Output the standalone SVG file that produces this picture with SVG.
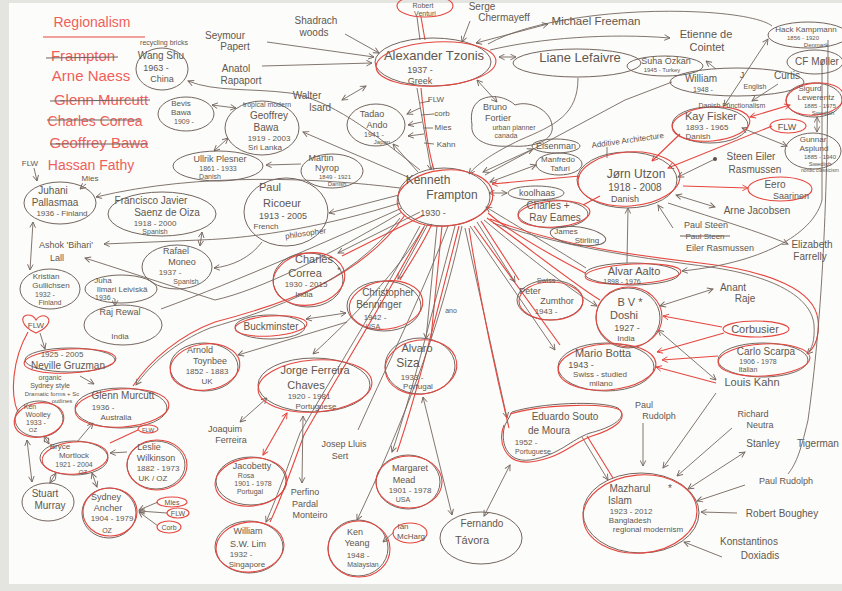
<svg xmlns="http://www.w3.org/2000/svg" width="842" height="591" viewBox="0 0 842 591">
<style>
.t{font-family:"Liberation Sans",Arial,sans-serif;fill:#62574f;text-anchor:middle}
.r{fill:#ef5f5a}
.n{fill:none;stroke:#74665f;stroke-width:1}
.nr{fill:none;stroke:#e5463f;stroke-width:1.1}
.c{fill:none;stroke:#74665f;stroke-width:0.9}
.cr{fill:none;stroke:#e5463f;stroke-width:1.1}
.k{fill:none;stroke:#6d625d;stroke-width:1.2}
</style>
<defs>
<marker id="ab" viewBox="0 0 10 10" refX="9" refY="5" markerWidth="7" markerHeight="7" markerUnits="userSpaceOnUse" orient="auto-start-reverse"><path d="M1,1 L9,5 L1,9" fill="none" stroke="#74665f" stroke-width="1.3"/></marker>
<marker id="ar" viewBox="0 0 10 10" refX="9" refY="5" markerWidth="7" markerHeight="7" markerUnits="userSpaceOnUse" orient="auto-start-reverse"><path d="M1,1 L9,5 L1,9" fill="none" stroke="#e5463f" stroke-width="1.3"/></marker>
</defs>

<!-- paper -->
<rect x="0" y="0" width="842" height="591" fill="#e4e4e1"/>
<rect x="9" y="3" width="833" height="581" fill="#fcfcfa"/>

<!-- connectors -->
<g id="connectors">
  <!-- around Tzonis -->
  <path class="c" d="M267,42 L374,57" marker-end="url(#ab)"/>
  <path class="c" d="M262,66 L372,63" marker-end="url(#ab)"/>
  <path class="c" d="M345,34 L379,53" marker-end="url(#ab)"/>
  <path class="c" d="M342,100 L366,86" marker-start="url(#ab)" marker-end="url(#ab)"/>
  <path class="cr" d="M421,17 L425,40"/>
  <path class="c" d="M417,17 L420,40"/>
  <path class="c" d="M470,21 L462,42" marker-end="url(#ab)"/>
  <path class="c" d="M548,24 L476,43" marker-start="url(#ab)" marker-end="url(#ab)"/>
  <path class="c" d="M488,44 C530,20 620,8 700,12 C740,14 765,20 772,26"/>
  <path class="c" d="M490,50 C540,38 610,33 670,38" marker-end="url(#ab)"/>
  <path class="c" d="M499,57 L516,57" marker-start="url(#ab)" marker-end="url(#ab)"/>
  <path class="c" d="M477,80 L497,102" marker-start="url(#ab)" marker-end="url(#ab)"/>
  <path class="c" d="M417,88 L431,170" marker-end="url(#ab)"/>
  <path class="cr" d="M421,88 C424,120 428,150 434,170"/>
  <path class="c" d="M420,103 L430,101 M421,115 L434,114 M423,128 L433,128 M424,143 L434,144"/>
  <path class="c" d="M420,108 L407,114" marker-end="url(#ab)"/>
  <path class="c" d="M422,122 L408,125" marker-end="url(#ab)"/>
  <path class="c" d="M424,134 L408,136" marker-end="url(#ab)"/>
  <path class="c" d="M578,78 C578,115 555,125 520,140 C495,152 478,163 469,174" marker-end="url(#ab)"/>
  <path class="c" d="M485,175 L625,100 L672,82"/>
  <path class="c" d="M483,172 L533,149" marker-start="url(#ab)" marker-end="url(#ab)"/>
  <path class="c" d="M490,182 L536,165" marker-start="url(#ab)" marker-end="url(#ab)"/>
  <path class="cr" d="M580,176 L492,184" marker-end="url(#ar)"/>
  <path class="c" d="M489,193 L507,193" marker-start="url(#ab)" marker-end="url(#ab)"/>
  <path class="cr" d="M583,205 L600,196"/>
  <path class="c" d="M586,268 C550,245 510,222 486,207" marker-end="url(#ab)"/>
  <path class="cr" d="M585,273 C545,252 510,232 488,213"/>
  <path class="cr" d="M490,219 C560,246 640,256 700,263 C770,271 815,290 818,320 C820,335 815,347 809,352"/>
  <path class="c" d="M493,223 C570,249 650,259 710,267 C780,277 812,300 814,325 C815,340 812,349 807,354" marker-end="url(#ab)"/>
  <!-- Frampton, upper left -->
  <path class="c" d="M418,172 L393,144" marker-end="url(#ab)"/>
  <path class="c" d="M410,178 L303,132" marker-end="url(#ab)"/>
  <path class="c" d="M420,170 C370,130 330,100 290,93 C250,88 215,92 188,81" marker-end="url(#ab)"/>
  <path class="c" d="M301,164 L266,165" marker-end="url(#ab)"/>
  <path class="c" d="M212,105 L236,108" marker-start="url(#ab)" marker-end="url(#ab)"/>
  <path class="c" d="M214,151 L228,138" marker-start="url(#ab)" marker-end="url(#ab)"/>
  <path class="c" d="M400,188 C320,178 200,172 96,197" marker-end="url(#ab)"/>
  <path class="c" d="M399,195 L329,213" marker-end="url(#ab)"/>
  <path class="c" d="M262,242 C250,258 232,266 214,268" marker-end="url(#ab)"/>
  <path class="c" d="M400,203 C330,225 260,238 200,240 L104,244" marker-end="url(#ab)"/>
  <path class="c" d="M202,232 L200,246" marker-start="url(#ab)" marker-end="url(#ab)"/>
  <path class="c" d="M402,208 C330,240 240,280 161,309"/>
  <path class="c" d="M402,212 C330,255 260,290 215,300 L85,258" marker-end="url(#ab)"/>
  <path class="c" d="M115,299 L115,306" marker-end="url(#ab)"/>
  <path class="c" d="M33,222 L30,270" marker-start="url(#ab)" marker-end="url(#ab)"/>
  <path class="c" d="M34,168 L37,181" marker-end="url(#ab)"/>
  <path class="c" d="M86,184 L80,189" marker-end="url(#ab)"/>
  <!-- Frampton, downward spokes -->
  <path class="c" d="M420,212 L338,253" marker-end="url(#ab)"/>
  <path class="cr" d="M424,215 L342,256"/>
  <path class="c" d="M428,224 L398,279" marker-end="url(#ab)"/>
  <path class="cr" d="M432,224 C420,250 405,270 400,280"/>
  <path class="c" d="M306,319 L346,313" marker-start="url(#ab)" marker-end="url(#ab)"/>
  <path class="c" d="M347,322 L238,355" marker-end="url(#ab)"/>
  <path class="c" d="M425,225 C400,270 350,320 313,354" marker-end="url(#ab)"/>
  <path class="cr" d="M405,215 C360,280 280,305 215,322 C180,335 150,360 133,386"/>
  <path class="c" d="M400,218 C350,285 270,310 210,328 C175,342 150,365 136,385" marker-end="url(#ab)"/>
  <path class="c" d="M437,226 L426,339" marker-end="url(#ab)"/>
  <path class="cr" d="M442,226 L431,338"/>
  <path class="c" d="M448,226 C420,300 380,380 358,430"/>
  <path class="c" d="M455,226 C430,320 410,400 392,452" marker-end="url(#ab)"/>
  <path class="cr" d="M459,226 C435,320 415,400 397,452"/>
  <path class="c" d="M462,226 C440,330 400,430 357,520" marker-end="url(#ab)"/>
  <path class="c" d="M420,226 C380,300 330,380 300,433 C290,460 278,495 266,522" marker-end="url(#ab)"/>
  <path class="cr" d="M424,227 C384,302 334,382 304,435 C294,462 282,497 270,522"/>
  <path class="c" d="M465,228 L507,418" marker-end="url(#ab)"/>
  <path class="cr" d="M469,228 C480,300 495,370 509,428"/>
  <path class="c" d="M582,437 L608,480" marker-end="url(#ab)"/>
  <path class="cr" d="M587,436 L613,478"/>
  <path class="c" d="M470,226 L555,350" marker-end="url(#ab)"/>
  <path class="cr" d="M474,226 L560,345"/>
  <path class="c" d="M477,222 L515,282" marker-end="url(#ab)"/>
  <path class="cr" d="M481,221 L519,280"/>
  <path class="c" d="M484,220 C520,250 570,290 597,306" marker-end="url(#ab)"/>
  <path class="cr" d="M487,218 C525,245 575,285 600,300"/>
  <path class="c" d="M423,397 L452,515" marker-start="url(#ab)" marker-end="url(#ab)"/>
  <path class="c" d="M510,465 L484,516" marker-start="url(#ab)" marker-end="url(#ab)"/>
  <path class="c" d="M267,398 L240,422" marker-start="url(#ab)" marker-end="url(#ab)"/>
  <path class="cr" d="M287,413 L263,455" marker-start="url(#ar)" marker-end="url(#ar)"/>
  <path class="c" d="M303,416 L302,483" marker-start="url(#ab)" marker-end="url(#ab)"/>
  <path class="c" d="M394,532 L383,542" marker-end="url(#ab)"/>
  <!-- Utzon and the Nordic group -->
  <path class="cr" d="M680,134 L652,161" marker-end="url(#ar)"/>
  <path class="cr" d="M772,126 L668,168" marker-end="url(#ar)"/>
  <path class="cr" d="M750,117 L790,105" marker-start="url(#ar)" marker-end="url(#ar)"/>
  <path class="c" d="M742,128 L787,146" marker-start="url(#ab)" marker-end="url(#ab)"/>
  <path class="c" d="M817,117 L817,132" marker-start="url(#ab)" marker-end="url(#ab)"/>
  <path class="c" d="M768,39 L724,106" marker-start="url(#ab)" marker-end="url(#ab)"/>
  <path class="c" d="M778,84 L752,101" marker-end="url(#ab)"/>
  <path class="c" d="M716,69 L706,61" marker-end="url(#ab)"/>
  <path class="c" d="M715,159 L678,177" marker-end="url(#ab)"/>
  <circle cx="715" cy="159" r="2" fill="#5b504b"/>
  <path class="cr" d="M683,186 L748,188" marker-end="url(#ar)"/>
  <path class="c" d="M676,195 L715,207" marker-start="url(#ab)" marker-end="url(#ab)"/>
  <path class="c" d="M673,228 L658,205" marker-end="url(#ab)"/>
  <path class="c" d="M668,203 C720,220 760,232 788,244" marker-end="url(#ab)"/>
  <path class="c" d="M822,60 L822,200 C815,230 770,262 682,271" marker-end="url(#ab)"/>
  <path class="c" d="M828,40 C828,200 822,320 808,420 C800,455 795,465 788,474"/>
  <path class="c" d="M627,263 L628,208" marker-end="url(#ab)"/>
  <!-- Doshi, Botta, Scarpa -->
  <path class="c" d="M713,289 L660,306" marker-start="url(#ab)" marker-end="url(#ab)"/>
  <path class="cr" d="M722,327 L663,316" marker-end="url(#ar)"/>
  <path class="cr" d="M724,333 L657,352" marker-end="url(#ar)"/>
  <path class="cr" d="M718,356 L662,360" marker-end="url(#ar)"/>
  <path class="cr" d="M716,383 L656,367" marker-end="url(#ar)"/>
  <path class="c" d="M716,380 L658,330" marker-start="url(#ab)" marker-end="url(#ab)"/>
  <!-- into Mazharul Islam -->
  <path class="c" d="M643,423 L643,466" marker-end="url(#ab)"/>
  <path class="c" d="M716,393 L663,468" marker-end="url(#ab)"/>
  <path class="c" d="M732,428 L677,476" marker-end="url(#ab)"/>
  <path class="c" d="M745,452 L688,489" marker-start="url(#ab)" marker-end="url(#ab)"/>
  <path class="c" d="M745,485 L697,501" marker-end="url(#ab)"/>
  <path class="c" d="M737,513 L701,512" marker-end="url(#ab)"/>
  <path class="c" d="M722,557 L684,542" marker-end="url(#ab)"/>
  <!-- Australian group -->
  <path class="c" d="M40,333 L45,349" marker-end="url(#ab)"/>
  <path class="c" d="M80,376 L94,384" marker-end="url(#ab)"/>
  <path class="c" d="M77,442 L93,423" marker-end="url(#ab)"/>
  <path class="cr" d="M138,430 L110,443"/>
  <path class="c" d="M127,452 L110,453" marker-end="url(#ab)"/>
  <path class="c" d="M44,436 L49,444" marker-start="url(#ab)" marker-end="url(#ab)"/>
  <path class="c" d="M27,440 L32,482" marker-start="url(#ab)" marker-end="url(#ab)"/>
  <path class="c" d="M56,473 L50,483" marker-start="url(#ab)" marker-end="url(#ab)"/>
  <path class="c" d="M92,473 L97,487" marker-start="url(#ab)" marker-end="url(#ab)"/>
  <path class="c" d="M158,502 L139,510" marker-end="url(#ab)"/>
  <path class="c" d="M167,513 L139,511" marker-end="url(#ab)"/>
  <path class="c" d="M158,526 L139,512" marker-end="url(#ab)"/>
  <path class="cr" d="M28,332 C12,360 10,395 18,412"/>
</g>

<!-- list -->
<g id="legend">
  <text class="t r" x="92" y="27" font-size="14">Regionalism</text>
  <path class="cr" d="M43,37 L145,37"/>
  <text class="t r" x="83" y="61" font-size="15">Frampton</text>
  <path class="k" d="M46,58 L118,57"/>
  <text class="t r" x="91" y="81" font-size="15">Arne Naess</text>
  <text class="t r" x="101" y="105" font-size="15">Glenn Murcutt</text>
  <path class="k" d="M50,101 L150,100"/>
  <text class="t r" x="95" y="126" font-size="14">Charles Correa</text>
  <path class="k" d="M47,120 L140,120"/>
  <text class="t r" x="99" y="148" font-size="15">Geoffrey Bawa</text>
  <path class="k" d="M50,144 L148,144"/>
  <text class="t r" x="91" y="170" font-size="14">Hassan Fathy</text>
</g>

<g id="wang-shu"><ellipse class="n" cx="162" cy="69" rx="26" ry="21"/>
  <text class="t" x="164" y="45" font-size="7">recycling bricks</text>
  <text class="t" x="161" y="59" font-size="10">Wang Shu</text>
  <text class="t" x="156" y="71" font-size="9">1963 -</text>
  <text class="t" x="162" y="82" font-size="9">China</text></g>
<g id="bevis-bawa"><ellipse class="n" cx="186" cy="114" rx="28" ry="17"/>
  <text class="t" x="181" y="106" font-size="8">Bevis</text>
  <text class="t" x="181" y="115" font-size="8">Bawa</text>
  <text class="t" x="184" y="124" font-size="7">1909 -</text></g>
<g id="geoffrey-bawa"><ellipse class="n" cx="262" cy="128" rx="37" ry="27"/>
  <text class="t" x="267" y="107" font-size="7">tropical modern</text>
  <text class="t" x="269" y="119" font-size="10">Geoffrey</text>
  <text class="t" x="266" y="131" font-size="10">Bawa</text>
  <text class="t" x="269" y="141" font-size="8">1919 - 2003</text>
  <text class="t" x="265" y="150" font-size="8">Sri Lanka</text></g>
<g id="ullrik-plesner"><ellipse class="n" cx="218" cy="166" rx="45" ry="15"/>
  <text class="t" x="220" y="162" font-size="9">Ullrik Plesner</text>
  <text class="t" x="218" y="171" font-size="7">1861 - 1933</text>
  <text class="t" x="210" y="179" font-size="7">Danish</text></g>
<g id="martin-nyrop"><ellipse class="n" cx="332" cy="171" rx="31" ry="17"/>
  <text class="t" x="321" y="161" font-size="9">Martin</text>
  <text class="t" x="327" y="171" font-size="9">Nyrop</text>
  <text class="t" x="335" y="179" font-size="6">1849 - 1921</text>
  <text class="t" x="337" y="186" font-size="6">Danish</text></g>
<g id="seymour-papert">
  <text class="t" x="225" y="39" font-size="10">Seymour</text>
  <text class="t" x="235" y="50" font-size="10">Papert</text></g>
<g id="anatol-rapaport">
  <text class="t" x="236" y="72" font-size="10">Anatol</text>
  <text class="t" x="241" y="84" font-size="10">Rapaport</text></g>
<g id="shadrach-woods">
  <text class="t" x="316" y="24" font-size="10">Shadrach</text>
  <text class="t" x="314" y="36" font-size="10">woods</text></g>
<g id="alexander-tzonis"><ellipse class="n" cx="433" cy="62" rx="58" ry="24"/>
  <ellipse class="nr" cx="436" cy="64" rx="60" ry="22" transform="rotate(-3 436 64)"/>
  <text class="t" x="434" y="60" font-size="13">Alexander Tzonis</text>
  <text class="t" x="420" y="73" font-size="9">1937 -</text>
  <text class="t" x="420" y="84" font-size="9">Greek</text></g>
<g id="robert-venturi"><ellipse class="nr" cx="425" cy="6" rx="28" ry="11"/>
  <text class="t" x="423" y="8" font-size="7">Robert</text>
  <text class="t" x="425" y="16" font-size="7">Venturi</text></g>
<g id="serge-chermayeff">
  <text class="t" x="482" y="10" font-size="10">Serge</text>
  <text class="t" x="504" y="21" font-size="10">Chermayeff</text></g>
<g id="michael-freeman"><text class="t" x="596" y="25" font-size="11.5">Michael Freeman</text></g>
<g id="etienne-de-cointet">
  <text class="t" x="706" y="38" font-size="11">Etienne de</text>
  <text class="t" x="707" y="51" font-size="11">Cointet</text></g>
<g id="liane-lefaivre"><ellipse class="n" cx="577" cy="63" rx="64" ry="14"/>
  <text class="t" x="580" y="62" font-size="13">Liane Lefaivre</text></g>
<g id="walter-isard">
  <text class="t" x="307" y="99" font-size="10">Walter</text>
  <text class="t" x="320" y="111" font-size="10">Isard</text></g>
<g id="tadao-ando"><ellipse class="n" cx="376" cy="125" rx="29" ry="21"/>
  <text class="t" x="372" y="117" font-size="9">Tadao</text>
  <text class="t" x="377" y="128" font-size="9">Ando</text>
  <text class="t" x="374" y="137" font-size="7">1941 -</text>
  <text class="t" x="382" y="144" font-size="6">Japan</text></g>
<g id="influences">
  <text class="t" x="436" y="102" font-size="8">FLW</text>
  <text class="t" x="442" y="116" font-size="8">corb</text>
  <text class="t" x="443" y="130" font-size="8">Mies</text>
  <text class="t" x="446" y="147" font-size="8">Kahn</text></g>
<g id="bruno-fortier"><path class="n" d="M480,100 C495,92 510,100 515,105 C530,100 550,110 552,125 C555,140 535,148 510,146 C485,148 470,138 472,125 C470,112 473,105 480,100 Z"/>
  <text class="t" x="495" y="110" font-size="9">Bruno</text>
  <text class="t" x="498" y="121" font-size="9">Fortier</text>
  <text class="t" x="514" y="130" font-size="7">urban planner</text>
  <text class="t" x="506" y="138" font-size="7">canada</text></g>
<g id="suha-ozkan"><ellipse class="n" cx="665" cy="66" rx="38" ry="10"/>
  <text class="t" x="666" y="64" font-size="9">Suha Özkan</text>
  <text class="t" x="662" y="72" font-size="6">1945 - Turkey</text></g>
<g id="william-curtis"><ellipse class="n" cx="737" cy="82" rx="67" ry="14"/>
  <text class="t" x="701" y="82" font-size="10">William</text>
  <text class="t" x="742" y="78" font-size="9">J</text>
  <text class="t" x="787" y="79" font-size="10">Curtis</text>
  <text class="t" x="703" y="92" font-size="7">1948 -</text>
  <text class="t" x="755" y="89" font-size="7">English</text></g>
<g id="hack-kampmann"><ellipse class="n" cx="808" cy="35" rx="40" ry="13"/>
  <text class="t" x="806" y="32" font-size="8">Hack Kampmann</text>
  <text class="t" x="803" y="40" font-size="6">1856 - 1920</text>
  <text class="t" x="816" y="47" font-size="6">Denmark</text></g>
<g id="cf-moller"><ellipse class="n" cx="815" cy="62" rx="28" ry="12"/>
  <text class="t" x="817" y="65" font-size="10">CF Møller</text></g>
<g id="sigurd-lewerentz"><ellipse class="n" cx="814" cy="100" rx="28" ry="17"/>
  <ellipse class="nr" cx="815" cy="99" rx="29" ry="16" transform="rotate(-6 815 99)"/>
  <text class="t" x="810" y="91" font-size="8">Sigurd</text>
  <text class="t" x="816" y="100" font-size="8">Lewerentz</text>
  <text class="t" x="820" y="108" font-size="6">1885 - 1975</text>
  <text class="t" x="823" y="115" font-size="6">Swedish</text></g>
<g id="kay-fisker"><ellipse class="n" cx="710" cy="125" rx="38" ry="18"/>
  <ellipse class="nr" cx="711" cy="124" rx="39" ry="17" transform="rotate(-5 711 124)"/>
  <text class="t" x="732" y="108" font-size="7">Danish Functionalism</text>
  <text class="t" x="711" y="120" font-size="11">Kay Fisker</text>
  <text class="t" x="707" y="130" font-size="8">1893 - 1965</text>
  <text class="t" x="698" y="139" font-size="8">Danish</text></g>
<g id="flw-nordic"><ellipse class="nr" cx="788" cy="126" rx="18" ry="7"/>
  <text class="t" x="787" y="130" font-size="9">FLW</text></g>
<g id="gunnar-asplund"><ellipse class="n" cx="813" cy="151" rx="28" ry="18"/>
  <text class="t" x="813" y="142" font-size="8">Gunnar</text>
  <text class="t" x="814" y="151" font-size="8">Asplund</text>
  <text class="t" x="820" y="159" font-size="6">1885 - 1940</text>
  <text class="t" x="820" y="166" font-size="6">Swedish</text>
  <text class="t" x="820" y="172" font-size="5">nordic classicism</text></g>
<g id="jorn-utzon"><ellipse class="n" cx="627" cy="180" rx="50" ry="28"/>
  <ellipse class="nr" cx="629" cy="179" rx="51" ry="27" transform="rotate(-4 629 179)"/>
  <text class="t" x="628" y="143" font-size="8" transform="rotate(-8 628 143)">Additive Architecture</text>
  <path class="c" d="M607,147 L607,158"/>
  <text class="t" x="636" y="178" font-size="12">Jørn Utzon</text>
  <text class="t" x="635" y="191" font-size="10">1918 - 2008</text>
  <text class="t" x="625" y="202" font-size="9">Danish</text></g>
<g id="steen-eiler-rasmussen">
  <text class="t" x="751" y="160" font-size="10">Steen Eiler</text>
  <text class="t" x="755" y="173" font-size="10">Rasmussen</text></g>
<g id="eero-saarinen"><ellipse class="nr" cx="780" cy="189" rx="32" ry="12"/>
  <text class="t" x="775" y="188" font-size="10">Eero</text>
  <text class="t" x="791" y="199" font-size="9">Saarinen</text></g>
<g id="arne-jacobsen"><text class="t" x="757" y="214" font-size="10">Arne Jacobsen</text></g>
<g id="paul-steen">
  <text class="t" x="706" y="228" font-size="9">Paul Steen</text>
  <text class="t" x="705" y="239" font-size="8">Paul Steen</text>
  <path class="k" d="M680,236 L730,236"/>
  <text class="t" x="720" y="251" font-size="9">Eiler Rasmussen</text></g>
<g id="elizabeth-farrelly">
  <text class="t" x="812" y="248" font-size="10">Elizabeth</text>
  <text class="t" x="810" y="260" font-size="10">Farrelly</text></g>
<g id="eisenman"><ellipse class="n" cx="556" cy="146" rx="24" ry="7"/>
  <text class="t" x="556" y="149" font-size="9">Eisenman</text></g>
<g id="manfredo-tafuri"><ellipse class="n" cx="559" cy="164" rx="23" ry="11"/>
  <text class="t" x="558" y="162" font-size="8">Manfredo</text>
  <text class="t" x="560" y="171" font-size="8">Tafuri</text></g>
<g id="kenneth-frampton"><ellipse class="n" cx="444" cy="197" rx="46" ry="29"/>
  <ellipse class="nr" cx="445" cy="198" rx="48" ry="28" transform="rotate(-5 445 198)"/>
  <text class="t" x="428" y="184" font-size="12">Kenneth</text>
  <text class="t" x="452" y="199" font-size="12">Frampton</text>
  <text class="t" x="433" y="216" font-size="9">1930 -</text></g>
<g id="koolhaas"><ellipse class="n" cx="536" cy="193" rx="28" ry="7"/>
  <text class="t" x="537" y="196" font-size="9">koolhaas</text></g>
<g id="charles-ray-eames"><ellipse class="n" cx="553" cy="214" rx="35" ry="14"/>
  <ellipse class="nr" cx="554" cy="214" rx="36" ry="13" transform="rotate(-4 554 214)"/>
  <text class="t" x="548" y="209" font-size="10">Charles +</text>
  <text class="t" x="555" y="221" font-size="10">Ray Eames</text></g>
<g id="james-stirling"><ellipse class="n" cx="578" cy="236" rx="28" ry="9" transform="rotate(8 578 236)"/>
  <text class="t" x="566" y="234" font-size="8">James</text>
  <text class="t" x="587" y="243" font-size="8">Stirling</text></g>
<g id="juhani-pallasmaa"><ellipse class="n" cx="60" cy="203" rx="36" ry="21"/>
  <text class="t" x="30" y="166" font-size="8">FLW</text>
  <text class="t" x="90" y="181" font-size="8">Mies</text>
  <text class="t" x="53" y="194" font-size="10">Juhani</text>
  <text class="t" x="55" y="206" font-size="10">Pallasmaa</text>
  <text class="t" x="62" y="216" font-size="8">1936 - Finland</text></g>
<g id="francisco-javier-saenz-de-oiza"><ellipse class="n" cx="162" cy="214" rx="54" ry="22"/>
  <text class="t" x="151" y="204" font-size="10">Francisco Javier</text>
  <text class="t" x="167" y="216" font-size="10">Saenz de Oiza</text>
  <text class="t" x="155" y="226" font-size="8">1918 - 2000</text>
  <text class="t" x="155" y="234" font-size="7">Spanish</text></g>
<g id="paul-ricoeur"><ellipse class="n" cx="286" cy="212" rx="42" ry="34"/>
  <text class="t" x="270" y="191" font-size="11">Paul</text>
  <text class="t" x="282" y="207" font-size="11">Ricoeur</text>
  <text class="t" x="283" y="219" font-size="9">1913 - 2005</text>
  <text class="t" x="266" y="229" font-size="8">French</text>
  <text class="t" x="306" y="236" font-size="8" transform="rotate(-8 306 236)">philosopher</text></g>
<g id="ashok-lall">
  <text class="t" x="66" y="248" font-size="9">Ashok 'Bihari'</text>
  <text class="t" x="57" y="261" font-size="9">Lall</text></g>
<g id="rafael-moneo"><ellipse class="n" cx="177" cy="267" rx="35" ry="22"/>
  <text class="t" x="176" y="254" font-size="9">Rafael</text>
  <text class="t" x="182" y="265" font-size="9">Moneo</text>
  <text class="t" x="170" y="275" font-size="8">1937 -</text>
  <text class="t" x="186" y="284" font-size="7">Spanish</text></g>
<g id="kristian-gullichsen"><ellipse class="n" cx="50" cy="289" rx="30" ry="20"/>
  <text class="t" x="46" y="279" font-size="8">Kristian</text>
  <text class="t" x="51" y="288" font-size="8">Gullichsen</text>
  <text class="t" x="45" y="297" font-size="7">1932 -</text>
  <text class="t" x="50" y="305" font-size="7">Finland</text></g>
<g id="juha-leiviska"><ellipse class="n" cx="121" cy="289" rx="36" ry="14"/>
  <text class="t" x="103" y="283" font-size="8">Juha</text>
  <text class="t" x="122" y="292" font-size="8">Ilmari Leiviskä</text>
  <text class="t" x="105" y="300" font-size="7">1936 -</text></g>
<g id="raj-rewal"><ellipse class="n" cx="123" cy="325" rx="39" ry="20"/>
  <text class="t" x="120" y="315" font-size="9">Raj Rewal</text>
  <text class="t" x="120" y="339" font-size="8">India</text></g>
<g id="charles-correa"><ellipse class="n" cx="308" cy="280" rx="35" ry="27"/>
  <ellipse class="nr" cx="309" cy="279" rx="36" ry="26" transform="rotate(-10 309 279)"/>
  <text class="t" x="314" y="263" font-size="11">Charles</text>
  <text class="t" x="305" y="277" font-size="11">Correa</text>
  <text class="t" x="306" y="287" font-size="8">1930 - 2015</text>
  <text class="t" x="304" y="297" font-size="8">India</text>
  <text class="t" x="339" y="273" font-size="9">*</text></g>
<g id="christopher-benninger"><ellipse class="n" cx="384" cy="306" rx="37" ry="25"/>
  <ellipse class="nr" cx="386" cy="305" rx="37" ry="24" transform="rotate(-8 386 305)"/>
  <text class="t" x="388" y="296" font-size="10">Christopher</text>
  <text class="t" x="379" y="308" font-size="10">Benninger</text>
  <text class="t" x="375" y="320" font-size="8">1942 -</text>
  <text class="t" x="373" y="329" font-size="7">USA</text></g>
<g id="buckminster"><ellipse class="n" cx="270" cy="327" rx="35" ry="12"/>
  <ellipse class="nr" cx="271" cy="326" rx="36" ry="10" transform="rotate(-4 271 326)"/>
  <text class="t" x="271" y="330" font-size="10">Buckminster</text></g>
<g id="peter-zumthor"><ellipse class="n" cx="550" cy="300" rx="33" ry="20"/>
  <ellipse class="nr" cx="551" cy="301" rx="32" ry="19"/>
  <text class="t" x="546" y="283" font-size="7">Swiss</text>
  <text class="t" x="530" y="294" font-size="9">Peter</text>
  <text class="t" x="557" y="304" font-size="9">Zumthor</text>
  <text class="t" x="546" y="314" font-size="8">1943 -</text></g>
<g id="note-ano"><text class="t" x="451" y="313" font-size="7">ano</text></g>
<g id="alvar-aalto"><ellipse class="n" cx="632" cy="274" rx="47" ry="11"/>
  <ellipse class="nr" cx="633" cy="274" rx="48" ry="10" transform="rotate(-3 633 274)"/>
  <text class="t" x="634" y="275" font-size="11">Alvar Aalto</text>
  <text class="t" x="622" y="284" font-size="7">1898 - 1976</text></g>
<g id="bv-doshi"><ellipse class="n" cx="628" cy="318" rx="32" ry="30"/>
  <ellipse class="nr" cx="629" cy="317" rx="33" ry="30"/>
  <text class="t" x="630" y="306" font-size="11">B V *</text>
  <text class="t" x="624" y="319" font-size="11">Doshi</text>
  <text class="t" x="627" y="331" font-size="9">1927 -</text>
  <text class="t" x="626" y="341" font-size="8">India</text></g>
<g id="anant-raje">
  <text class="t" x="733" y="291" font-size="10">Anant</text>
  <text class="t" x="745" y="302" font-size="10">Raje</text></g>
<g id="corbusier"><ellipse class="nr" cx="756" cy="329" rx="33" ry="8"/>
  <text class="t" x="755" y="333" font-size="11">Corbusier</text></g>
<g id="carlo-scarpa"><ellipse class="n" cx="763" cy="360" rx="45" ry="17"/>
  <ellipse class="nr" cx="764" cy="360" rx="46" ry="16" transform="rotate(-3 764 360)"/>
  <text class="t" x="766" y="355" font-size="10">Carlo Scarpa</text>
  <text class="t" x="758" y="364" font-size="7">1906 - 1978</text>
  <text class="t" x="748" y="372" font-size="7">Italian</text></g>
<g id="louis-kahn"><text class="t" x="752" y="386" font-size="11">Louis Kahn</text></g>
<g id="mario-botta"><ellipse class="n" cx="606" cy="367" rx="48" ry="24"/>
  <ellipse class="nr" cx="607" cy="367" rx="49" ry="23" transform="rotate(-4 607 367)"/>
  <text class="t" x="603" y="357" font-size="11">Mario Botta</text>
  <text class="t" x="581" y="368" font-size="9">1943 -</text>
  <text class="t" x="600" y="377" font-size="8">Swiss - studied</text>
  <text class="t" x="601" y="386" font-size="8">milano</text></g>
<g id="alvaro-siza"><ellipse class="n" cx="420" cy="366" rx="35" ry="28"/>
  <ellipse class="nr" cx="421" cy="367" rx="36" ry="27" transform="rotate(-8 421 367)"/>
  <text class="t" x="417" y="352" font-size="11">Alvaro</text>
  <text class="t" x="408" y="367" font-size="12">Siza</text>
  <text class="t" x="412" y="380" font-size="8">1933 -</text>
  <text class="t" x="418" y="389" font-size="8">Portugal</text></g>
<g id="flw-heart"><path class="nr" d="M36,333 C20,326 20,315 28,315 C32,315 35,318 36,320 C37,318 41,315 45,316 C52,318 50,327 36,333 Z"/>
  <text class="t" x="36" y="328" font-size="8">FLW</text></g>
<g id="neville-gruzman"><ellipse class="n" cx="70" cy="360" rx="45" ry="12"/>
  <ellipse class="nr" cx="70" cy="361" rx="46" ry="12" transform="rotate(-3 70 361)"/>
  <text class="t" x="62" y="357" font-size="8">1925 - 2005</text>
  <text class="t" x="68" y="369" font-size="10">Neville Gruzman</text></g>
<g id="sydney-style-note">
  <text class="t" x="50" y="380" font-size="7">organic</text>
  <text class="t" x="50" y="388" font-size="7">Sydney style</text>
  <text class="t" x="52" y="396" font-size="6">Dramatic forms + Sc</text>
  <text class="t" x="62" y="403" font-size="6">outlines</text></g>
<g id="arnold-toynbee"><ellipse class="n" cx="204" cy="367" rx="34" ry="24"/>
  <ellipse class="nr" cx="205" cy="367" rx="35" ry="23" transform="rotate(-8 205 367)"/>
  <text class="t" x="200" y="353" font-size="9">Arnold</text>
  <text class="t" x="210" y="364" font-size="9">Toynbee</text>
  <text class="t" x="207" y="374" font-size="8">1852 - 1883</text>
  <text class="t" x="207" y="384" font-size="8">UK</text></g>
<g id="jorge-ferreira-chaves"><ellipse class="n" cx="314" cy="385" rx="56" ry="27"/>
  <ellipse class="nr" cx="315" cy="386" rx="57" ry="26" transform="rotate(-4 315 386)"/>
  <text class="t" x="315" y="374" font-size="11">Jorge Ferreira</text>
  <text class="t" x="306" y="389" font-size="11">Chaves</text>
  <text class="t" x="309" y="399" font-size="8">1920 - 1981</text>
  <text class="t" x="316" y="409" font-size="8">Portuguese</text></g>
<g id="glenn-murcutt"><ellipse class="n" cx="121" cy="408" rx="46" ry="20"/>
  <ellipse class="nr" cx="122" cy="408" rx="47" ry="19" transform="rotate(-4 122 408)"/>
  <text class="t" x="123" y="399" font-size="10">Glenn Murcutt</text>
  <text class="t" x="103" y="410" font-size="8">1936 -</text>
  <text class="t" x="116" y="420" font-size="8">Australia</text></g>
<g id="ken-woolley"><ellipse class="n" cx="39" cy="419" rx="24" ry="18"/>
  <ellipse class="nr" cx="39" cy="420" rx="25" ry="17" transform="rotate(-10 39 420)"/>
  <text class="t" x="30" y="409" font-size="7">Ken</text>
  <text class="t" x="38" y="417" font-size="7">Woolley</text>
  <text class="t" x="36" y="425" font-size="7">1933 -</text>
  <text class="t" x="33" y="432" font-size="6">OZ</text></g>
<g id="flw-murcutt"><ellipse class="nr" cx="148" cy="429" rx="10" ry="4"/>
  <text class="t" x="148" y="432" font-size="6">FLW</text></g>
<g id="bryce-mortlock"><ellipse class="n" cx="74" cy="458" rx="34" ry="17"/>
  <ellipse class="nr" cx="75" cy="458" rx="33" ry="16" transform="rotate(-5 75 458)"/>
  <text class="t" x="60" y="449" font-size="8">Bryce</text>
  <text class="t" x="74" y="458" font-size="8">Mortlock</text>
  <text class="t" x="74" y="467" font-size="7">1921 - 2004</text>
  <text class="t" x="83" y="474" font-size="6">OZ</text></g>
<g id="leslie-wilkinson"><ellipse class="n" cx="156" cy="465" rx="29" ry="24"/>
  <ellipse class="nr" cx="157" cy="465" rx="30" ry="25"/>
  <text class="t" x="149" y="450" font-size="9">Leslie</text>
  <text class="t" x="156" y="461" font-size="9">Wilkinson</text>
  <text class="t" x="158" y="471" font-size="8">1882 - 1973</text>
  <text class="t" x="153" y="481" font-size="8">UK / OZ</text></g>
<g id="stuart-murray"><ellipse class="n" cx="48" cy="502" rx="26" ry="19"/>
  <text class="t" x="45" y="497" font-size="10">Stuart</text>
  <text class="t" x="50" y="509" font-size="10">Murray</text></g>
<g id="sydney-ancher"><ellipse class="n" cx="109" cy="513" rx="27" ry="25"/>
  <ellipse class="nr" cx="110" cy="512" rx="27" ry="24"/>
  <text class="t" x="106" y="500" font-size="9">Sydney</text>
  <text class="t" x="108" y="511" font-size="9">Ancher</text>
  <text class="t" x="112" y="521" font-size="8">1904 - 1979</text>
  <text class="t" x="107" y="533" font-size="7">OZ</text></g>
<g id="mies-ancher"><ellipse class="nr" cx="172" cy="502" rx="15" ry="5"/>
  <text class="t" x="172" y="505" font-size="7">Mies</text></g>
<g id="flw-ancher"><ellipse class="nr" cx="178" cy="513" rx="11" ry="5"/>
  <text class="t" x="178" y="516" font-size="7">FLW</text></g>
<g id="corb-ancher"><ellipse class="nr" cx="169" cy="527" rx="12" ry="6"/>
  <text class="t" x="169" y="530" font-size="7">Corb</text></g>
<g id="joaquim-ferreira">
  <text class="t" x="225" y="432" font-size="9">Joaquim</text>
  <text class="t" x="231" y="443" font-size="9">Ferreira</text></g>
<g id="josep-lluis-sert">
  <text class="t" x="344" y="447" font-size="9">Josep Lluis</text>
  <text class="t" x="340" y="459" font-size="9">Sert</text></g>
<g id="jacobetty-rosa"><ellipse class="n" cx="251" cy="481" rx="35" ry="24"/>
  <ellipse class="nr" cx="251" cy="482" rx="36" ry="24" transform="rotate(-6 251 482)"/>
  <text class="t" x="252" y="469" font-size="9">Jacobetty</text>
  <text class="t" x="246" y="478" font-size="7">Rosa</text>
  <text class="t" x="253" y="486" font-size="7">1901 - 1978</text>
  <text class="t" x="250" y="494" font-size="7">Portugal</text></g>
<g id="perfino-pardal-monteiro">
  <text class="t" x="305" y="495" font-size="9">Perfino</text>
  <text class="t" x="305" y="507" font-size="9">Pardal</text>
  <text class="t" x="310" y="518" font-size="9">Monteiro</text></g>
<g id="margaret-mead"><ellipse class="n" cx="408" cy="482" rx="32" ry="27"/>
  <ellipse class="nr" cx="409" cy="482" rx="33" ry="26"/>
  <text class="t" x="410" y="471" font-size="9">Margaret</text>
  <text class="t" x="404" y="483" font-size="9">Mead</text>
  <text class="t" x="410" y="493" font-size="8">1901 - 1978</text>
  <text class="t" x="403" y="502" font-size="7">USA</text></g>
<g id="william-lim"><ellipse class="n" cx="249" cy="547" rx="34" ry="26"/>
  <ellipse class="nr" cx="250" cy="547" rx="34" ry="25" transform="rotate(-6 250 547)"/>
  <text class="t" x="248" y="534" font-size="9">William</text>
  <text class="t" x="248" y="547" font-size="9">S.W. Lim</text>
  <text class="t" x="241" y="557" font-size="8">1932 -</text>
  <text class="t" x="247" y="567" font-size="8">Singapore</text></g>
<g id="ken-yeang"><ellipse class="n" cx="358" cy="548" rx="30" ry="28"/>
  <ellipse class="nr" cx="359" cy="549" rx="31" ry="28"/>
  <text class="t" x="355" y="535" font-size="9">Ken</text>
  <text class="t" x="357" y="546" font-size="9">Yeang</text>
  <text class="t" x="358" y="558" font-size="8">1948 -</text>
  <text class="t" x="363" y="567" font-size="7">Malaysian</text></g>
<g id="ian-mcharg"><ellipse class="nr" cx="410" cy="533" rx="17" ry="10"/>
  <text class="t" x="403" y="529" font-size="8">Ian</text>
  <text class="t" x="411" y="539" font-size="8">McHarg</text></g>
<g id="fernando-tavora"><ellipse class="n" cx="481" cy="538" rx="41" ry="26"/>
  <text class="t" x="482" y="527" font-size="10">Fernando</text>
  <text class="t" x="472" y="544" font-size="11">Távora</text></g>
<g id="eduardo-souto-de-moura"><path class="n" d="M512,412 C540,403 600,400 618,408 C630,418 610,428 590,433 C570,440 560,455 530,460 C505,463 500,440 505,425 Z"/>
  <path class="nr" d="M510,414 C540,405 602,402 620,410 C628,420 612,430 592,436 C572,443 562,458 530,462 C503,464 498,440 504,425"/>
  <text class="t" x="565" y="420" font-size="10">Eduardo Souto</text>
  <text class="t" x="549" y="434" font-size="10">de Moura</text>
  <text class="t" x="526" y="445" font-size="8">1952 -</text>
  <text class="t" x="533" y="454" font-size="7">Portuguese</text></g>
<g id="mazharul-islam"><ellipse class="n" cx="641" cy="513" rx="58" ry="40"/>
  <ellipse class="nr" cx="640" cy="514" rx="57" ry="39" transform="rotate(-5 640 514)"/>
  <text class="t" x="630" y="492" font-size="10">Mazharul</text>
  <text class="t" x="670" y="492" font-size="10">*</text>
  <text class="t" x="620" y="504" font-size="10">Islam</text>
  <text class="t" x="631" y="514" font-size="8">1923 - 2012</text>
  <text class="t" x="630" y="523" font-size="8">Bangladesh</text>
  <text class="t" x="648" y="532" font-size="8">regional modernism</text></g>
<g id="paul-rudolph">
  <text class="t" x="644" y="408" font-size="9">Paul</text>
  <text class="t" x="659" y="419" font-size="9">Rudolph</text></g>
<g id="richard-neutra">
  <text class="t" x="753" y="417" font-size="9">Richard</text>
  <text class="t" x="760" y="428" font-size="9">Neutra</text></g>
<g id="stanley-tigerman">
  <text class="t" x="763" y="447" font-size="10">Stanley</text>
  <text class="t" x="818" y="447" font-size="10">Tigerman</text></g>
<g id="paul-rudolph-2"><text class="t" x="786" y="484" font-size="9">Paul Rudolph</text></g>
<g id="robert-boughey"><text class="t" x="782" y="517" font-size="10">Robert Boughey</text></g>
<g id="konstantinos-doxiadis">
  <text class="t" x="749" y="545" font-size="10">Konstantinos</text>
  <text class="t" x="760" y="559" font-size="10">Doxiadis</text></g>
</svg>
